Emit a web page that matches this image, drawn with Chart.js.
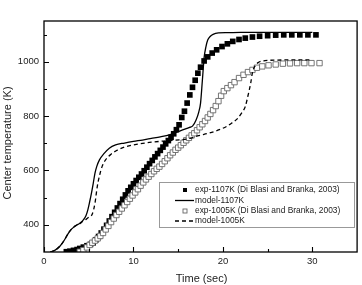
<!DOCTYPE html>
<html>
<head>
<meta charset="utf-8">
<script src="https://cdn.jsdelivr.net/npm/chart.js@4/dist/chart.umd.min.js"></script>
<style>
html,body{margin:0;padding:0;background:#fff;}
canvas{display:block;}
</style>
</head>
<body>
<canvas id="c" width="362" height="285"></canvas>
<script>
// ---- data ----
const exp1107T = [2.5,2.9,3.3,3.7,4.0,4.4,4.8,5.2,5.5,5.8,6.1,6.4,6.7,7.0,7.3,7.6,7.9,8.2,8.5,8.8,9.1,9.4,9.7,10.0,10.3,10.6,10.9,11.2,11.5,11.8,12.1,12.4,12.7,13.0,13.3,13.6,13.9,14.2,14.5,14.8,15.1,15.4,15.7,16.0,16.3,16.6,16.9,17.2,17.5,17.9,18.3,18.8,19.3,19.9,20.5,21.1,21.8,22.5,23.3,24.1,25.0,25.9,26.8,27.7,28.6,29.5,30.4];
const exp1107K = [301,303,306,309,313,318,323,328,334,345,357,370,384,398,414,430,446,462,478,494,510,525,538,551,563,575,587,599,612,625,637,650,662,674,686,698,710,722,735,750,768,795,818,848,878,906,932,958,980,1003,1018,1032,1044,1056,1066,1075,1082,1087,1091,1094,1096,1098,1099,1099,1099,1099,1099];

const exp1005T = [4.0,4.4,4.8,5.1,5.4,5.7,6.0,6.3,6.6,6.9,7.2,7.5,7.8,8.1,8.4,8.7,9.0,9.3,9.6,9.9,10.2,10.5,10.8,11.1,11.4,11.7,12.0,12.3,12.6,12.9,13.2,13.5,13.8,14.1,14.4,14.7,15.0,15.3,15.6,15.9,16.2,16.5,16.8,17.1,17.4,17.7,18.0,18.3,18.6,18.9,19.2,19.5,19.8,20.1,20.5,20.9,21.3,21.8,22.3,22.8,23.3,23.8,24.4,25.1,25.9,26.7,27.5,28.3,29.1,29.9,30.8];
const exp1005K = [301,307,317,326,334,342,350,359,370,383,396,410,423,436,448,460,472,484,496,508,519,531,544,556,567,577,587,597,606,614,624,634,645,656,666,676,684,693,702,711,720,729,737,748,759,770,782,795,808,822,837,855,875,892,903,914,925,940,952,962,970,978,983,987,990,993,994,995,995,995,995];

const model1107T = [0.7,1.2,1.8,2.3,2.7,3.1,3.5,4.0,4.4,4.7,4.9,5.1,5.3,5.5,5.7,5.9,6.2,6.7,7.3,8.0,9.0,10.0,11.0,12.0,13.0,14.0,15.0,15.5,16.2,16.6,17.0,17.3,17.5,17.7,17.9,18.1,18.3,18.6,18.9,19.5,20.5,22.0,25.0,28.0,30.0];
const model1107K = [300,306,322,345,368,385,396,406,418,434,455,484,516,552,590,615,639,662,682,694,701,707,712,718,724,731,743,749,758,763,786,815,848,930,1015,1055,1080,1094,1101,1106,1107,1108,1108,1108,1108];

const model1005T = [0.7,1.2,1.8,2.3,2.7,3.1,3.5,4.0,4.4,4.7,5.0,5.4,5.7,5.95,6.2,6.5,6.9,7.5,8.2,9.2,10.5,12.0,14.0,16.0,17.3,18.5,19.6,20.4,21.0,21.6,22.1,22.5,22.8,23.1,23.3,23.6,24.0,24.7,26.0,28.0,30.0];
const model1005K = [300,306,322,345,368,385,396,404,414,420,428,440,480,540,580,615,640,660,675,688,697,704,710,716,728,738,750,762,775,790,812,835,875,920,960,985,998,1004,1006,1007,1007];

const xTickValues = [0,10,20,30];
const xMinorValues = [5,15,25];
const yTickValues = [400,600,800,1000];
const yMinorValues = [500,700,900,1100];

const legendLabels = ['exp-1107K (Di Blasi and Branka, 2003)','model-1107K','exp-1005K (Di Blasi and Branka, 2003)','model-1005K'];
const xTitle = 'Time (sec)';
const yTitle = 'Center temperature (K)';

function pts(xs, ys){ return xs.map((x,i)=>({x:x, y:ys[i]})); }

const FONT = "'Liberation Sans', Arial, sans-serif";
const TXT = '#222';

const framePlugin = {
  id:'frame',
  afterDatasetsDraw(chart){
    const ctx = chart.ctx, a = chart.chartArea;
    const xs = chart.scales.x, ys = chart.scales.y;
    ctx.save();
    ctx.strokeStyle = '#000';
    ctx.lineWidth = 1.3;
    ctx.strokeRect(a.left, a.top, a.right - a.left, a.bottom - a.top);
    ctx.lineWidth = 1.1;
    ctx.beginPath();
    xTickValues.forEach(v=>{ const p = Math.round(xs.getPixelForValue(v))+0.5; ctx.moveTo(p, a.bottom); ctx.lineTo(p, a.bottom-5); });
    xMinorValues.forEach(v=>{ const p = Math.round(xs.getPixelForValue(v))+0.5; ctx.moveTo(p, a.bottom); ctx.lineTo(p, a.bottom-3); });
    yTickValues.forEach(v=>{ const p = Math.round(ys.getPixelForValue(v))+0.5; ctx.moveTo(a.left, p); ctx.lineTo(a.left+5, p); });
    yMinorValues.forEach(v=>{ const p = Math.round(ys.getPixelForValue(v))+0.5; ctx.moveTo(a.left, p); ctx.lineTo(a.left+3, p); });
    ctx.stroke();

    // legend
    const lx = 159.5, ly = 182.5, lw = 195, lh = 45;
    ctx.fillStyle = '#fff';
    ctx.fillRect(lx, ly, lw, lh);
    ctx.strokeStyle = '#999';
    ctx.lineWidth = 1;
    ctx.strokeRect(lx, ly, lw, lh);
    const rows = [190, 200.5, 211, 221];
    ctx.font = '8.4px ' + FONT;
    ctx.textBaseline = 'middle';
    ctx.textAlign = 'left';
    rows.forEach((ry, i)=>{
      ctx.fillStyle = TXT;
      ctx.fillText(legendLabels[i], 195, ry);
    });
    // markers
    ctx.fillStyle = '#000';
    ctx.fillRect(183, rows[0]-2, 4, 4);
    ctx.strokeStyle = '#000';
    ctx.lineWidth = 1.3;
    ctx.beginPath(); ctx.moveTo(175, rows[1]); ctx.lineTo(194, rows[1]); ctx.stroke();
    ctx.strokeStyle = '#666';
    ctx.lineWidth = 0.9;
    ctx.strokeRect(183, rows[2]-2, 4, 4);
    ctx.strokeStyle = '#000';
    ctx.lineWidth = 1.3;
    ctx.setLineDash([4,3]);
    ctx.beginPath(); ctx.moveTo(175, rows[3]); ctx.lineTo(194, rows[3]); ctx.stroke();
    ctx.setLineDash([]);

    // axis titles
    ctx.fillStyle = TXT;
    ctx.font = '11px ' + FONT;
    ctx.textAlign = 'center';
    ctx.textBaseline = 'middle';
    ctx.fillText(xTitle, (a.left + a.right)/2 + 1, 279);
    ctx.translate(8, 143);
    ctx.rotate(-Math.PI/2);
    ctx.fillText(yTitle, 0, 0);
    ctx.restore();
  }
};

new Chart(document.getElementById('c'), {
  type: 'scatter',
  data: {
    datasets: [
      { label: legendLabels[1], data: pts(model1107T, model1107K), showLine: true, borderColor: '#000', borderWidth: 1.3, pointRadius: 0, cubicInterpolationMode: 'monotone' },
      { label: legendLabels[3], data: pts(model1005T, model1005K), showLine: true, borderColor: '#000', borderWidth: 1.3, borderDash: [4,3], pointRadius: 0, cubicInterpolationMode: 'monotone' },
      { label: legendLabels[2], data: pts(exp1005T, exp1005K), pointStyle: 'rect', pointRadius: 3.8, borderColor: '#666', borderWidth: 0.9, backgroundColor: '#fff', showLine: false },
      { label: legendLabels[0], data: pts(exp1107T, exp1107K), pointStyle: 'rect', pointRadius: 4.0, borderColor: '#000', borderWidth: 0, backgroundColor: '#000', showLine: false }
    ]
  },
  options: {
    responsive: false,
    animation: false,
    devicePixelRatio: 1,
    layout: { padding: { top: 21, right: 4, left: 0, bottom: 0 } },
    plugins: { legend: { display: false }, tooltip: { enabled: false } },
    scales: {
      x: {
        type: 'linear', min: 0, max: 35,
        grid: { display: false, drawTicks: false },
        border: { display: false },
        afterBuildTicks: s => { s.ticks = xTickValues.map(v=>({value:v})); },
        afterFit: s => { s.height = 33; },
        ticks: { padding: 4, color: TXT, font: { size: 9.5, family: FONT }, maxRotation: 0, callback: v => String(v) }
      },
      y: {
        type: 'linear', min: 300, max: 1150,
        grid: { display: false, drawTicks: false },
        border: { display: false },
        afterBuildTicks: s => { s.ticks = yTickValues.map(v=>({value:v})); },
        afterFit: s => { s.width = 44; },
        ticks: { padding: 5, color: TXT, font: { size: 9.5, family: FONT }, callback: v => String(v) }
      }
    }
  },
  plugins: [framePlugin]
});
</script>
</body>
</html>
